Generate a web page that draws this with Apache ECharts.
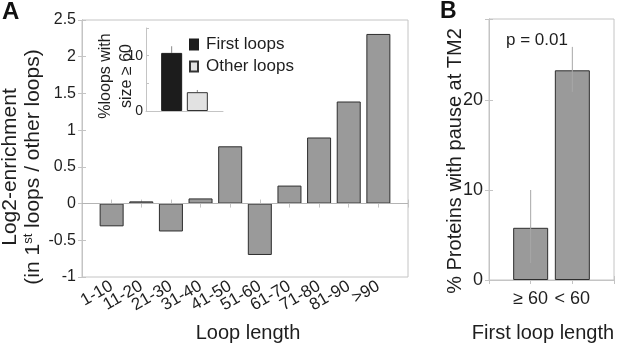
<!DOCTYPE html>
<html>
<head>
<meta charset="utf-8">
<script src="https://cdn.jsdelivr.net/npm/echarts@6/dist/echarts.min.js"></script>
<style>
    html, body { margin: 0; padding: 0; background: #fff; }
    #main { width: 617px; height: 345px; }
</style>
</head>
<body>
<div id="main"></div>
<script>
// 数据
var loopLabels = ['1-10', '11-20', '21-30', '31-40', '41-50', '51-60', '61-70', '71-80', '81-90', '>90'];
var enrichValues = [-0.31, 0.03, -0.38, 0.07, 0.78, -0.70, 0.245, 0.90, 1.39, 2.31];

var insetNames = ['First loops', 'Other loops'];
var insetValues = [10.5, 3.4];
var insetErrHigh = [11.7, 3.8];

var pauseLabels = ['≥ 60', '< 60'];
var pauseValues = [5.8, 23.3];
var pauseErrLow = [1.9, 20.9];
var pauseErrHigh = [10.0, 25.9];

var FONT = 'Liberation Sans';
var TXT = '#1e1e1e';
var AXIS = '#c4c4c4';

//误差线
function errorBarItem(color) {
    return function (params, api) {
        var p1 = api.coord([api.value(0), api.value(1)]);
        var p2 = api.coord([api.value(0), api.value(2)]);
        return {
            type: 'line',
            shape: {x1: p1[0], y1: p1[1], x2: p2[0], y2: p2[1]},
            style: {stroke: color, lineWidth: 1}
        };
    };
}

function plainAxis(extra) {
    var ax = {
        axisLine: {show: true, lineStyle: {color: AXIS}},
        axisTick: {show: true, inside: true, length: 4, lineStyle: {color: AXIS}},
        axisLabel: {show: false},
        splitLine: {show: false}
    };
    for (var k in extra) { ax[k] = extra[k]; }
    return ax;
}

var enrichData = [];
for (var i = 0; i < enrichValues.length; i++) {
    enrichData.push([i + 1, enrichValues[i]]);
}
var pauseData = [];
var pauseErr = [];
for (var j = 0; j < pauseValues.length; j++) {
    pauseData.push([j + 1, pauseValues[j]]);
    pauseErr.push([j + 1, pauseErrLow[j], pauseErrHigh[j]]);
}
var insetErr = [];
for (var k = 0; k < insetValues.length; k++) {
    insetErr.push([k + 1, insetValues[k], insetErrHigh[k]]);
}

var option = {
    animation: false,
    textStyle: {fontFamily: FONT, color: TXT},
    grid: [
        {left: 82, top: 20, width: 326, height: 257, show: true, borderColor: AXIS, borderWidth: 1},
        {left: 146, top: 28, width: 77, height: 83},
        {left: 489, top: 19, width: 127, height: 261, show: true, borderColor: AXIS, borderWidth: 1}
    ],
    legend: {
        data: insetNames,
        orient: 'vertical',
        left: 189,
        top: 36,
        padding: 0,
        itemWidth: 8,
        itemHeight: 10,
        itemGap: 5,
        icon: 'rect',
        textStyle: {fontSize: 17, color: TXT, fontFamily: FONT, padding: [0, 0, 0, 3]}
    },
    xAxis: [
        plainAxis({
            gridIndex: 0, type: 'value', min: 0, max: 11, interval: 1, position: 'bottom',
            axisLabel: {
                show: true, rotate: 30, fontSize: 17, color: TXT, margin: 8, fontFamily: FONT,
                formatter: function (v) { return loopLabels[v - 1] || ''; }
            }
        }),
        plainAxis({gridIndex: 0, type: 'value', min: 0, max: 11, interval: 1, position: 'top'}),
        plainAxis({gridIndex: 1, type: 'value', min: 0, max: 3, axisTick: {show: false}}),
        plainAxis({
            gridIndex: 2, type: 'value', min: 0, max: 3, interval: 1, position: 'bottom',
            axisLabel: {
                show: true, fontSize: 18, color: TXT, margin: 10, fontFamily: FONT,
                formatter: function (v) { return pauseLabels[v - 1] || ''; }
            }
        }),
        plainAxis({gridIndex: 2, type: 'value', min: 0, max: 3, interval: 1, position: 'top'})
    ],
    yAxis: [
        plainAxis({
            gridIndex: 0, type: 'value', min: -1, max: 2.5, interval: 0.5, position: 'left',
            axisLabel: {show: true, fontSize: 16, color: TXT, margin: 6, fontFamily: FONT}
        }),
        plainAxis({gridIndex: 0, type: 'value', min: -1, max: 2.5, interval: 0.5, position: 'right'}),
        plainAxis({
            gridIndex: 1, type: 'value', min: 0, max: 15, interval: 5,
            axisTick: {show: true, inside: true, length: 3, lineStyle: {color: AXIS}},
            axisLabel: {
                show: true, fontSize: 14, color: TXT, margin: 3, fontFamily: FONT,
                formatter: function (v) { return (v === 0 || v === 10) ? v : ''; }
            }
        }),
        plainAxis({
            gridIndex: 2, type: 'value', min: 0, max: 29, interval: 10, position: 'left',
            axisLabel: {
                show: true, fontSize: 18, color: TXT, margin: 6, fontFamily: FONT,
                formatter: function (v) { return v % 10 === 0 ? v : ''; }
            }
        }),
        plainAxis({gridIndex: 2, type: 'value', min: 0, max: 29, interval: 10, position: 'right'})
    ],
    series: [
        {
            name: 'enrichment',
            type: 'bar',
            xAxisIndex: 0,
            yAxisIndex: 0,
            barWidth: 24,
            data: enrichData,
            itemStyle: {color: '#9a9a9a', borderColor: '#2e2e2e', borderWidth: 1},
            markLine: {
                silent: true,
                symbol: 'none',
                label: {show: false},
                lineStyle: {color: '#b4b4b4', type: 'solid', width: 1},
                data: [{yAxis: 0}]
            }
        },
        {
            name: insetNames[0],
            type: 'bar',
            xAxisIndex: 2,
            yAxisIndex: 2,
            barWidth: 21,
            barGap: '-100%',
            data: [[1, insetValues[0]]],
            itemStyle: {color: '#1c1c1c', borderColor: '#1c1c1c', borderWidth: 1}
        },
        {
            name: insetNames[1],
            type: 'bar',
            xAxisIndex: 2,
            yAxisIndex: 2,
            barWidth: 21,
            barGap: '-100%',
            data: [[2, insetValues[1]]],
            itemStyle: {color: '#e2e2e2', borderColor: '#333', borderWidth: 1}
        },
        {
            type: 'custom',
            xAxisIndex: 2,
            yAxisIndex: 2,
            z: 1,
            renderItem: errorBarItem('#8a8a8a'),
            data: insetErr
        },
        {
            name: 'pause',
            type: 'bar',
            xAxisIndex: 3,
            yAxisIndex: 3,
            barWidth: 35,
            data: pauseData,
            itemStyle: {color: '#9a9a9a', borderColor: '#2e2e2e', borderWidth: 1}
        },
        {
            type: 'custom',
            xAxisIndex: 3,
            yAxisIndex: 3,
            z: 5,
            renderItem: errorBarItem('#a8a8a8'),
            data: pauseErr
        }
    ],
    graphic: [
        {type: 'text', left: 2, top: 0, style: {text: 'A', fontSize: 24, fontWeight: 'bold', fill: '#111', fontFamily: FONT}},
        {type: 'text', left: 440, top: 0, style: {text: 'B', fontSize: 23, fontWeight: 'bold', fill: '#111', fontFamily: FONT}},
        {
            type: 'text', x: 22, y: 167, rotation: Math.PI / 2,
            style: {
                text: '{a|Log2-enrichment}\n{a|(in 1}{s|st}{a| loops / other loops)}',
                align: 'center', verticalAlign: 'middle', fill: TXT, fontFamily: FONT,
                rich: {
                    a: {fontSize: 21, lineHeight: 23, fontFamily: FONT, fill: TXT},
                    s: {fontSize: 13, lineHeight: 23, verticalAlign: 'top', fontFamily: FONT, fill: TXT}
                }
            }
        },
        {
            type: 'text', x: 116, y: 76, rotation: Math.PI / 2,
            style: {
                text: '%loops with\nsize ≥ 60',
                align: 'center', verticalAlign: 'middle', fill: TXT, fontFamily: FONT,
                fontSize: 16, lineHeight: 21
            }
        },
        {
            type: 'text', x: 248, y: 333,
            style: {text: 'Loop length', align: 'center', verticalAlign: 'middle', fill: TXT, fontFamily: FONT, fontSize: 20}
        },
        {
            type: 'text', x: 455, y: 161, rotation: Math.PI / 2,
            style: {text: '% Proteins with pause at TM2', align: 'center', verticalAlign: 'middle', fill: TXT, fontFamily: FONT, fontSize: 20}
        },
        {
            type: 'text', x: 543, y: 333,
            style: {text: 'First loop length', align: 'center', verticalAlign: 'middle', fill: TXT, fontFamily: FONT, fontSize: 20}
        },
        {
            type: 'text', x: 537, y: 40,
            style: {text: 'p = 0.01', align: 'center', verticalAlign: 'middle', fill: TXT, fontFamily: FONT, fontSize: 17}
        }
    ]
};

var dom_chart = echarts.init(document.getElementById('main'));
dom_chart.setOption(option);
</script>
</body>
</html>
